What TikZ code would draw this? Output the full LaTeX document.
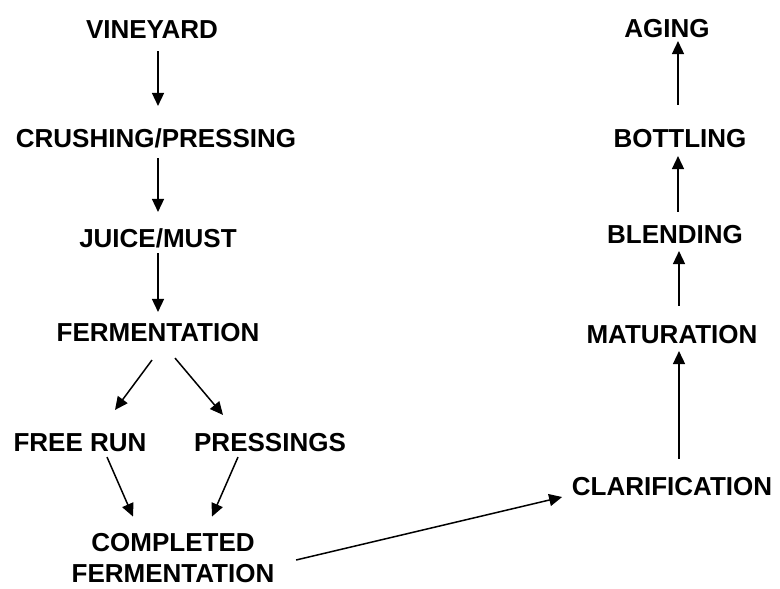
\documentclass[tikz,border=0pt]{standalone}
\usepackage{fontspec}
\setmainfont{Liberation Sans}
\usetikzlibrary{arrows.meta, calc}

\begin{document}
\begin{tikzpicture}[x=0.5pt, y=-0.5pt, >={Triangle[length=6.5pt,width=6pt]}, line width=0.75pt,
    stage/.style={inner sep=0pt, font=\fontsize{13pt}{15.5pt}\selectfont\bfseries, text height=9.3pt, text depth=0pt},
    stagetwo/.style={inner sep=0pt, font=\fontsize{13pt}{15.5pt}\selectfont\bfseries, align=center}]
    \useasboundingbox (0,0) rectangle (780,588);

    \node[stage] (vin) at (152,29) {VINEYARD};
    \node[stage] (crush) at (156,138) {CRUSHING/PRESSING};
    \node[stage] (juice) at (158,238) {JUICE/MUST};
    \node[stage] (ferm) at (158,332) {FERMENTATION};
    \node[stage] (free) at (80,442) {FREE RUN};
    \node[stage] (press) at (270,442) {PRESSINGS};
    \node[stagetwo] (comp) at (173,558) {COMPLETED\\FERMENTATION};
    \node[stage] (clar) at (672,486) {CLARIFICATION};
    \node[stage] (mat) at (672,334) {MATURATION};
    \node[stage] (blend) at (675,234) {BLENDING};
    \node[stage] (bott) at (680,138) {BOTTLING};
    \node[stage] (aging) at (667,28) {AGING};

    \draw[->] ($(vin.south)+(6,12)$) -- ($(crush.north)+(2,-22)$);
    \draw[->] ($(crush.south)+(2,10)$) -- ($(juice.north)+(0,-16)$);
    \draw[->] ($(juice.south)+(0,5)$) -- ($(ferm.north)+(0,-10)$);

    \draw[->] ($(ferm.south)+(-6,18)$) -- ($(free.north)+(35,-22)$);
    \draw[->] ($(ferm.south)+(17,16)$) -- ($(press.north)+(-47,-17)$);
    \draw[->] ($(free.south)+(27,5)$) -- ($(comp.north)+(-40,-16)$);
    \draw[->] ($(press.south)+(-32,5)$) -- ($(comp.north)+(39,-16)$);

    \draw[->] ($(comp.east)+(21,2)$) -- ($(clar.west)+(-9,11)$);

    \draw[->] ($(clar.north)+(7,-17)$) -- ($(mat.south)+(7,7)$);
    \draw[->] ($(mat.north)+(7,-18)$) -- ($(blend.south)+(4,7)$);
    \draw[->] ($(blend.north)+(3,-12)$) -- ($(bott.south)+(-2,8)$);
    \draw[->] ($(bott.north)+(-2,-23)$) -- ($(aging.south)+(11,3)$);
\end{tikzpicture}
\end{document}
